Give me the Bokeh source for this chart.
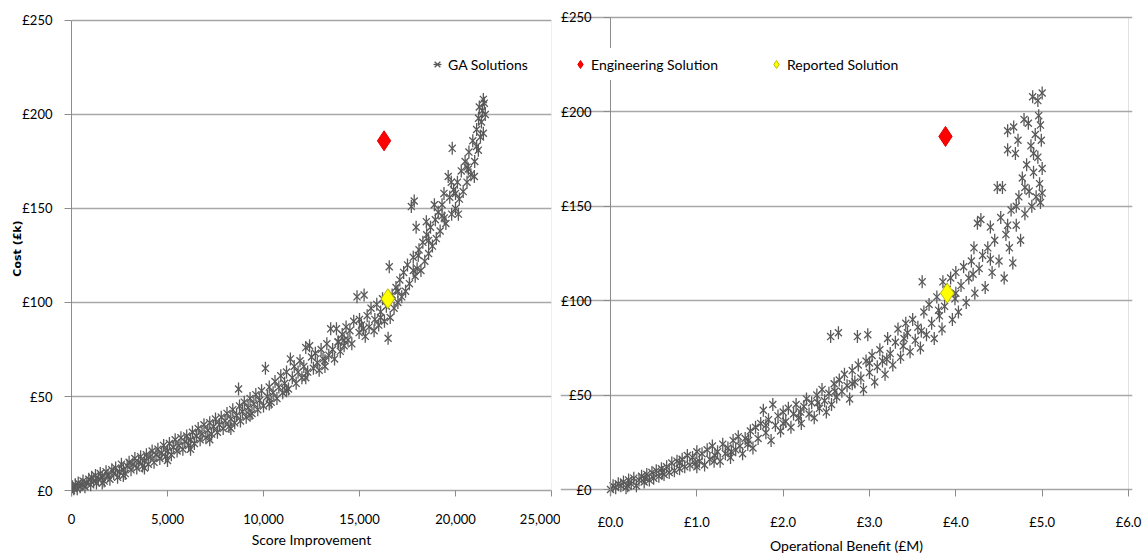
from math import pi
from bokeh.plotting import figure
from bokeh.layouts import row
from bokeh.models import (Range1d, FixedTicker, NumeralTickFormatter, BoxAnnotation,
                          PrintfTickFormatter, Legend, LegendItem)
from bokeh.embed import file_html
from bokeh.resources import INLINE

# ---------------- data ----------------
cost_ticks = [0, 50, 100, 150, 200, 250]
score_ticks = [0, 5000, 10000, 15000, 20000, 25000]
benefit_ticks = [0, 1, 2, 3, 4, 5, 6]

# GA solutions: (score improvement, cost £k)
ga_score = [
    (0, 0), (50, 2), (120, 1), (200, 3), (300, 1), (350, 4), (450, 2), (550, 3), (600, 5), (700, 2),
    (800, 4), (900, 6), (1000, 3), (1050, 7), (1150, 5), (1250, 8), (1300, 4), (1400, 6), (1500, 9),
    (1600, 7), (1700, 5), (1800, 10), (1900, 8), (2000, 6),
    (2100, 11), (2200, 9), (2300, 12), (2400, 7), (2500, 10), (2600, 14), (2700, 11), (2800, 9),
    (2900, 13), (3000, 15), (3100, 11), (3200, 14), (3300, 17), (3400, 12), (3500, 15), (3600, 18),
    (3700, 13), (3800, 16), (3900, 19), (4000, 14),
    (4100, 18), (4200, 21), (4300, 15), (4400, 19), (4500, 22), (4600, 17), (4700, 20), (4800, 24),
    (4900, 18), (5000, 21), (5100, 25), (5200, 19), (5300, 23), (5400, 27), (5500, 21), (5600, 24),
    (5700, 28), (5800, 22), (5900, 26), (6000, 29),
    (6100, 24), (6200, 27), (6300, 31), (6400, 25), (6500, 29), (6600, 33), (6700, 27), (6800, 30),
    (6900, 35), (7000, 28), (7100, 32), (7200, 36), (7300, 30), (7400, 34), (7500, 38), (7600, 31),
    (7700, 35), (7800, 39), (7900, 33), (8000, 37),
    (8100, 41), (8200, 34), (8300, 38), (8400, 43), (8500, 36), (8600, 40), (8700, 54), (8750, 45),
    (8800, 37), (8900, 42), (9000, 47), (9100, 39), (9200, 44), (9300, 49), (9400, 41), (9500, 46),
    (9600, 51), (9700, 43), (9800, 48), (9900, 53), (10000, 45), (10100, 65),
    (10200, 50), (10300, 55), (10400, 47), (10500, 52), (10600, 58), (10700, 49), (10800, 55),
    (10900, 61), (11000, 52), (11100, 57), (11200, 63), (11300, 54), (11400, 70), (11500, 60),
    (11600, 66), (11700, 57), (11800, 63), (11900, 69), (12000, 60), (12200, 76), (12400, 77),
    (12500, 71),
    (12100, 66), (12300, 63), (12600, 65), (12700, 73), (12800, 68), (12900, 64), (13000, 75),
    (13100, 70), (13200, 66), (13300, 78), (13400, 72), (13500, 86), (13600, 75), (13700, 70),
    (13800, 86), (13900, 79), (14000, 74), (13880, 79),
    (14100, 83), (14200, 77), (14300, 87), (14400, 80), (14500, 85), (14600, 78), (14700, 90),
    (14870, 103), (15000, 91), (14980, 84), (15100, 88), (15240, 104), (15300, 82), (15400, 93),
    (15500, 87), (15600, 97), (15760, 85), (15800, 91), (15900, 99), (16000, 88),
    (16100, 95), (16200, 102), (16300, 90), (16400, 98), (16490, 81), (16550, 119), (16600, 92),
    (16700, 104), (16800, 97), (16900, 108), (17000, 100), (17100, 112), (17200, 103), (17300, 116),
    (17400, 106), (17500, 120), (17600, 110), (17700, 151), (17850, 154), (17950, 140), (17800, 124),
    (17900, 114), (18000, 118),
    (18060, 125), (18100, 128), (18200, 117), (18300, 132), (18400, 122), (18480, 143), (18500, 136),
    (18600, 126), (18700, 140), (18800, 130), (18900, 152), (18950, 144), (19000, 134), (19100, 148),
    (19200, 138), (19300, 152), (19400, 158), (19415, 145), (19500, 142), (19620, 167), (19700, 156),
    (19780, 164), (19830, 182), (19800, 147), (19900, 160), (20000, 150),
    (20100, 164), (20150, 147), (20200, 155), (20300, 170), (20400, 159), (20500, 175), (20600, 164),
    (20670, 171), (20700, 180), (20800, 168), (20900, 186), (20980, 167), (21000, 175), (21100, 192),
    (21190, 181), (21200, 198), (21240, 204), (21300, 188), (21350, 196), (21400, 202), (21450, 190),
    (21500, 206), (21550, 200), (21450, 208),
    # extra points filling the dense band
    (1600, 4), (2700, 8), (3800, 12), (5000, 16), (6200, 22), (7200, 27), (8300, 33), (9300, 40),
    (10300, 46), (11200, 53), (12200, 60), (13200, 69), (14200, 80), (15200, 86), (16100, 92),
    (17000, 106), (17800, 117), (18600, 133), (19300, 146), (20000, 158), (20600, 172), (21100, 183),
]

# GA solutions: (operational benefit £M, cost £k)
ga_benefit = [
    (0.00, 0), (0.03, 2), (0.06, 1), (0.09, 3), (0.12, 2), (0.15, 4), (0.18, 1), (0.21, 5), (0.24, 3),
    (0.27, 6), (0.30, 2), (0.33, 5), (0.36, 7), (0.39, 4), (0.42, 8), (0.45, 5), (0.48, 9), (0.50, 6),
    (0.53, 10), (0.56, 7), (0.59, 11), (0.62, 8), (0.65, 12), (0.68, 9), (0.71, 14), (0.74, 10),
    (0.77, 15), (0.80, 11), (0.83, 16), (0.86, 12), (0.89, 18), (0.92, 13), (0.95, 17), (0.98, 14),
    (1.00, 20),
    (1.03, 15), (1.06, 19), (1.09, 13), (1.12, 21), (1.15, 16), (1.18, 23), (1.21, 18), (1.24, 20),
    (1.27, 15), (1.30, 24), (1.33, 19), (1.36, 22), (1.39, 17), (1.42, 26), (1.45, 21), (1.48, 28),
    (1.50, 23),
    (1.53, 19), (1.56, 27), (1.59, 24), (1.62, 31), (1.65, 22), (1.68, 33), (1.71, 27), (1.74, 35),
    (1.77, 42), (1.80, 30), (1.83, 37), (1.86, 26), (1.88, 45), (1.91, 34), (1.94, 39), (1.97, 31),
    (2.00, 41),
    (2.03, 36), (2.06, 43), (2.09, 33), (2.12, 40), (2.15, 45), (2.18, 38), (2.21, 35), (2.24, 44),
    (2.27, 48), (2.30, 40), (2.33, 46), (2.36, 38), (2.39, 50), (2.42, 43), (2.45, 53), (2.48, 47),
    (2.50, 41),
    (2.53, 51), (2.55, 81), (2.56, 45), (2.59, 56), (2.62, 49), (2.64, 83), (2.65, 58), (2.68, 52),
    (2.71, 61), (2.74, 55), (2.77, 48), (2.80, 63), (2.83, 57), (2.86, 81), (2.87, 66), (2.90, 59),
    (2.93, 53), (2.96, 68), (2.98, 82), (3.00, 62),
    (3.03, 71), (3.06, 57), (3.09, 65), (3.12, 74), (3.15, 68), (3.18, 61), (3.21, 80), (3.24, 72),
    (3.27, 66), (3.30, 78), (3.33, 85), (3.36, 70), (3.39, 76), (3.42, 88), (3.44, 83), (3.47, 73),
    (3.50, 90),
    (3.53, 79), (3.56, 86), (3.59, 75), (3.61, 110), (3.63, 94), (3.66, 82), (3.69, 98), (3.72, 88),
    (3.75, 80), (3.78, 102), (3.81, 92), (3.85, 110), (3.84, 85), (3.87, 97), (3.90, 106), (3.94, 112),
    (3.96, 90), (3.99, 101), (4.00, 115),
    (4.03, 94), (4.06, 108), (4.09, 118), (4.12, 99), (4.15, 112), (4.18, 121), (4.21, 128),
    (4.22, 104), (4.25, 141), (4.27, 117), (4.29, 143), (4.31, 124), (4.34, 107), (4.37, 128),
    (4.40, 139), (4.42, 115), (4.45, 132), (4.48, 160), (4.50, 121),
    (4.52, 144), (4.54, 160), (4.56, 112), (4.58, 135), (4.60, 190), (4.60, 180), (4.62, 128),
    (4.64, 148), (4.67, 192), (4.66, 120), (4.69, 178), (4.70, 140), (4.72, 185), (4.73, 155),
    (4.75, 132), (4.77, 165), (4.79, 196), (4.80, 146), (4.82, 172), (4.84, 194), (4.85, 158),
    (4.87, 182), (4.88, 150), (4.89, 208), (4.90, 168), (4.92, 188), (4.93, 155), (4.95, 206),
    (4.95, 176), (4.96, 198), (4.97, 162), (4.98, 152), (4.99, 185), (5.00, 210), (5.00, 170),
    (4.98, 193), (5.00, 157),
    # extra points filling the dense band
    (0.20, 2), (0.40, 6), (0.60, 9), (0.80, 14), (1.00, 12), (1.20, 15), (1.40, 20), (1.60, 26),
    (1.80, 34), (2.00, 35), (2.20, 41), (2.40, 46), (2.60, 52), (2.80, 56), (3.00, 67), (3.20, 69),
    (3.40, 80), (3.60, 84), (3.80, 95), (4.00, 104), (4.20, 114), (4.40, 122), (4.60, 140),
    (4.70, 150), (4.80, 160), (4.90, 178),
]

eng_score, eng_score_cost = [16280], [186]
rep_score, rep_score_cost = [16477], [102]
eng_benefit, eng_benefit_cost = [3.88], [187]
rep_benefit, rep_benefit_cost = [3.90], [104]

# ---------------- styling ----------------
FONT = "Lato"
GRID = "#A8A8A8"
AXIS = "#8C8C8C"
MARK = "#595959"
FRAME_BOTTOM_BORDER = 59   # both frames run from the top of the page to y = 497


def style(p, x_hi):
    p.xgrid.visible = False
    p.ygrid.grid_line_color = GRID
    p.ygrid.grid_line_width = 1.5
    p.ygrid.bounds = (0, x_hi)
    p.outline_line_color = None
    p.background_fill_color = "white"
    p.border_fill_color = "white"
    for ax in p.axis:
        ax.axis_line_color = AXIS
        ax.major_tick_line_color = AXIS
        ax.minor_tick_line_color = None
        ax.major_label_text_font = FONT
        ax.major_label_text_font_size = "13px"
        ax.major_label_text_color = "black"
        ax.axis_label_text_font = FONT
        ax.axis_label_text_font_size = "14px"
        ax.axis_label_text_font_style = "normal"
        ax.axis_label_text_color = "black"
    p.yaxis.ticker = FixedTicker(ticks=cost_ticks)
    p.yaxis.formatter = PrintfTickFormatter(format="£%d")
    p.yaxis.bounds = (0, 250)
    p.yaxis.major_tick_in = 0
    p.yaxis.major_tick_out = 7
    p.yaxis.major_label_standoff = 12
    # x axis: the line is the frame box's lower edge at cost = 0; ticks hang below it
    p.xaxis.bounds = (0, x_hi)
    p.xaxis.axis_line_color = None
    p.xaxis.major_tick_out = 0
    p.xaxis.major_label_standoff = 17
    p.xaxis.axis_label_standoff = 4
    p.add_layout(BoxAnnotation(left=0, right=x_hi, bottom=0, top=250, fill_alpha=0,
                               line_color="#9A9A9A", line_width=1, level="underlay"))


def ga(p, pts):
    xs = [a for a, b in pts]
    ys = [b for a, b in pts]
    r1 = p.scatter(xs, ys, marker="x", size=10, line_color=MARK, line_width=1.3)
    r2 = p.scatter(xs, ys, marker="dash", angle=pi / 2, size=13, line_color=MARK, line_width=1.3)
    return [r1, r2]


def diamonds(p, ex, ey, rx, ry):
    re = p.scatter(ex, ey, marker="diamond", size=20, fill_color="#FF0000", line_color="#E00000")
    rr = p.scatter(rx, ry, marker="diamond", size=20, fill_color="#FFFF00", line_color="#BDBD00")
    return re, rr


def legend(items, x, width):
    return Legend(items=items, location=(x, 416), orientation="horizontal",
                  glyph_width=20, glyph_height=22, padding=5, margin=0, spacing=20,
                  label_standoff=1, label_width=width,
                  label_text_font=FONT, label_text_font_size="14px", label_text_color="black",
                  background_fill_color="white", background_fill_alpha=1.0,
                  border_line_alpha=0)


# ---------------- left panel ----------------
# cost 0 -> y 491, cost 250 -> y 20
left = figure(width=560, height=556, x_range=Range1d(0, 25000), y_range=Range1d(-3.185, 260.62),
              title=None,
              min_border_left=71, min_border_right=9, min_border_top=0,
              min_border_bottom=FRAME_BOTTOM_BORDER,
              output_backend="svg", toolbar_location=None)
style(left, 25000)
left.xaxis.major_tick_in = 6
left.xaxis.ticker = FixedTicker(ticks=score_ticks)
left.xaxis.formatter = NumeralTickFormatter(format="0,0")
left.xaxis.axis_label = "Score Improvement"
left.yaxis.axis_label = "Cost (£k)"
left.yaxis.axis_label_text_font = "DejaVu Sans"
left.yaxis.axis_label_text_font_style = "bold"
left.yaxis.axis_label_text_font_size = "11px"
left.yaxis.axis_label_standoff = -5

ga_l = ga(left, ga_score)
diamonds(left, eng_score, eng_score_cost, rep_score, rep_score_cost)
left.add_layout(legend([LegendItem(label="GA Solutions", renderers=ga_l)], 351, 140))

# ---------------- right panel ----------------
# frame starts at the figure's left edge; the y axis sits at benefit = 0
# cost 0 -> y 490, cost 250 -> y 17
right = figure(width=582, height=556, x_range=Range1d(-0.5792, 6.0463),
               y_range=Range1d(-3.700, 258.99), title=None,
               min_border_left=0, min_border_right=10, min_border_top=0,
               min_border_bottom=FRAME_BOTTOM_BORDER,
               output_backend="svg", toolbar_location=None)
style(right, 6)
right.yaxis.fixed_location = 0
right.xaxis.major_tick_in = 7
right.xaxis.ticker = FixedTicker(ticks=benefit_ticks)
right.xaxis.formatter = PrintfTickFormatter(format="£%.1f")
right.xaxis.axis_label = "Operational Benefit (£M)"

ga(right, ga_benefit)
re_r, rr_r = diamonds(right, eng_benefit, eng_benefit_cost, rep_benefit, rep_benefit_cost)
right.add_layout(legend([LegendItem(label="Engineering Solution", renderers=[re_r]),
                         LegendItem(label="Reported Solution", renderers=[rr_r])], 5, 155))

layout = row(left, right)
open("out.html", "w").write(file_html(layout, INLINE))
